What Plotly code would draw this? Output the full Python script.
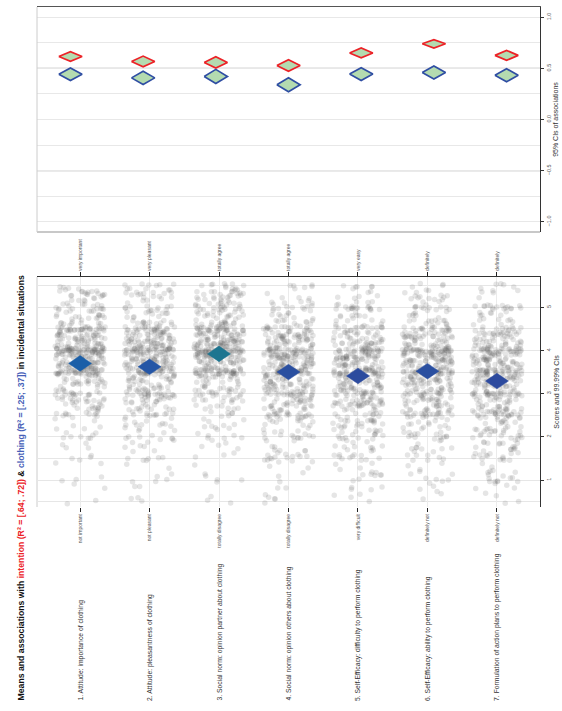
import plotly.graph_objects as go

# ---- Items and anchor labels -------------------------------------------
items = [
    "1. Attitude: importance of clothing",
    "2. Attitude: pleasantness of clothing",
    "3. Social norm: opinion partner about clothing",
    "4. Social norm: opinion others about clothing",
    "5. Self-Efficacy: difficulty to perform clothing",
    "6. Self-Efficacy: ability to perform clothing",
    "7. Formulation of action plans to perform clothing",
]
low_anchors = ["not important", "not pleasant", "totally disagree", "totally disagree",
               "very difficult", "definitely not", "definitely not"]
high_anchors = ["very important", "very pleasant", "totally agree", "totally agree",
                "very easy", "definitely", "definitely"]

# ---- Score distributions: number of respondents per score level ---------
score_levels = [0.75, 1.25, 1.75, 2.25, 2.75, 3.25, 3.75, 4.25, 4.75, 5.25]
score_counts = [
    [4, 5, 10, 14, 40, 60, 130, 110, 45, 35],
    [6, 8, 15, 25, 45, 65, 120, 100, 40, 30],
    [4, 5, 10, 14, 30, 50, 115, 115, 55, 50],
    [7, 10, 22, 32, 60, 80, 110, 80, 32, 20],
    [9, 13, 27, 37, 60, 80, 105, 75, 30, 20],
    [7, 10, 22, 32, 55, 75, 115, 80, 32, 25],
    [10, 16, 32, 42, 65, 80, 100, 70, 25, 18],
]

# ---- Means with 99.99% confidence intervals ------------------------------
mean_est = [3.70, 3.62, 3.92, 3.50, 3.41, 3.52, 3.29]
mean_lo = [3.52, 3.44, 3.74, 3.32, 3.23, 3.34, 3.11]
mean_hi = [3.88, 3.80, 4.10, 3.68, 3.59, 3.70, 3.47]
mean_colors = ["#1b5fa8", "#2456a6", "#1d7590", "#2a4fa0", "#2c4b9e", "#2a4fa0", "#2d4a9e"]

# ---- Associations (95% CIs) ---------------------------------------------
int_lo = [0.569, 0.516, 0.503, 0.471, 0.604, 0.699, 0.578]
int_est = [0.616, 0.568, 0.558, 0.527, 0.651, 0.740, 0.627]
int_hi = [0.663, 0.620, 0.614, 0.584, 0.699, 0.780, 0.676]
clo_lo = [0.382, 0.343, 0.353, 0.271, 0.382, 0.395, 0.369]
clo_est = [0.442, 0.407, 0.421, 0.340, 0.444, 0.459, 0.432]
clo_hi = [0.503, 0.471, 0.490, 0.408, 0.506, 0.523, 0.496]

W, H = 562, 711
pos = list(range(1, len(items) + 1))


def py(px):
    return 1 - px / H


def diamond(xc, lo, mid, hi, hw):
    return [xc - hw, xc, xc + hw, xc, xc - hw], [mid, hi, mid, lo, mid]


def jitter(n):
    """Deterministic jitter offset in [0, 1) from an integer key."""
    n = (n * 2654435761) & 0xFFFFFFFF
    n ^= n >> 15
    n = (n * 2246822519) & 0xFFFFFFFF
    n ^= n >> 13
    n = (n * 3266489917) & 0xFFFFFFFF
    n ^= n >> 16
    return n / 4294967296.0


fig = go.Figure()

# ---- Jittered individual scores -------------------------------------------
for k, (p, counts) in enumerate(zip(pos, score_counts)):
    xs, ys = [], []
    j = 0
    for lvl, n in zip(score_levels, counts):
        for _ in range(n):
            key = (k + 1) * 100003 + j * 7
            xs.append(p + (jitter(key) - 0.5) * 0.72)
            ys.append(lvl + (jitter(key + 3) - 0.5) * 0.6)
            j += 1
    fig.add_trace(go.Scatter(
        x=xs, y=ys, xaxis="x", yaxis="y", mode="markers",
        marker=dict(size=5.5, color="rgba(100,100,100,0.17)", line=dict(width=0)),
        hoverinfo="skip"))

# ---- Mean diamonds ---------------------------------------------------------
for p, lo, m, hi, c in zip(pos, mean_lo, mean_est, mean_hi, mean_colors):
    dx, dy = diamond(p, lo, m, hi, 0.165)
    fig.add_trace(go.Scatter(
        x=dx, y=dy, xaxis="x", yaxis="y", mode="lines", fill="toself",
        fillcolor=c, line=dict(color=c, width=0.5), hoverinfo="skip"))

# top anchor axis carrier
fig.add_trace(go.Scatter(x=[1], y=[1], xaxis="x3", yaxis="y", mode="markers",
                         marker=dict(opacity=0), hoverinfo="skip"))

# ---- Association diamonds ------------------------------------------------
for lo_s, est_s, hi_s, col in [(clo_lo, clo_est, clo_hi, "#2f4ea3"),
                               (int_lo, int_est, int_hi, "#ec2227")]:
    for p, lo, m, hi in zip(pos, lo_s, est_s, hi_s):
        dx, dy = diamond(p, lo, m, hi, 0.16)
        fig.add_trace(go.Scatter(
            x=dx, y=dy, xaxis="x2", yaxis="y2", mode="lines", fill="toself",
            fillcolor="#b4dbb0", line=dict(color=col, width=1.7), hoverinfo="skip"))

X0, X1 = 37 / W, 540 / W
tick_font = dict(size=5.5, color="#555")

fig.update_layout(
    width=W, height=H, margin=dict(l=0, r=0, t=0, b=0),
    paper_bgcolor="white", plot_bgcolor="white", showlegend=False,
    font=dict(family="Liberation Sans, Arial, sans-serif", color="#444"),
    xaxis=dict(domain=[X0, X1], anchor="y", range=[0.38, 7.62],
               tickmode="array", tickvals=pos, ticktext=low_anchors, tickangle=-90,
               ticks="outside", ticklen=4, tickcolor="#222", tickfont=dict(size=5, color="#555"),
               showgrid=True, gridcolor="#ebebeb", gridwidth=1, showline=False,
               zeroline=False, automargin=False),
    xaxis3=dict(overlaying="x", anchor="y", side="top", range=[0.38, 7.62],
                tickmode="array", tickvals=pos, ticktext=high_anchors, tickangle=-90,
                ticks="outside", ticklen=4, tickcolor="#222", tickfont=dict(size=5, color="#555"),
                showgrid=False, showline=True, linecolor="#333", linewidth=1.2,
                zeroline=False, automargin=False),
    yaxis=dict(domain=[py(507), py(277)], anchor="x", side="right", range=[0.375, 5.7],
               tick0=0, dtick=1, tickangle=-90, ticks="outside", ticklen=3,
               tickcolor="#333", tickfont=tick_font,
               showgrid=True, gridcolor="#e6e6e6", gridwidth=1,
               minor=dict(dtick=0.5, showgrid=True, gridcolor="#e6e6e6", ticks=""),
               showline=True, linecolor="#333", linewidth=1.2, zeroline=False,
               automargin=False,
               title=dict(text="Scores and 99.99% CIs", font=dict(size=7, color="#333"), standoff=3)),
    xaxis2=dict(domain=[X0, X1], anchor="y2", side="top", range=[0.54, 7.46],
                showticklabels=False, ticks="", showgrid=False, zeroline=False,
                showline=True, linecolor="#555", linewidth=1.2, automargin=False),
    yaxis2=dict(domain=[py(232), py(7)], anchor="x2", side="right", range=[-1.1, 1.1],
                tick0=0, dtick=0.5, tickformat=".1f", tickangle=-90, ticks="outside", ticklen=3,
                tickcolor="#333", tickfont=tick_font,
                showgrid=True, gridcolor="#e8e8e8", gridwidth=1,
                minor=dict(dtick=0.25, showgrid=True, gridcolor="#e8e8e8", ticks=""),
                showline=True, linecolor="#333", linewidth=1.2, zeroline=False,
                automargin=False,
                title=dict(text="95% CIs of associations", font=dict(size=7, color="#333"), standoff=1)),
)

# reference lines in the association panel
shapes = []
for v in (-0.5, 0.0, 0.5):
    shapes.append(dict(type="line", xref="x2 domain", yref="y2", x0=0, x1=1, y0=v, y1=v,
                       line=dict(color="#ababab", width=1.2), layer="below"))
# panel borders
shapes.append(dict(type="line", xref="paper", yref="paper", x0=X0, x1=X1, y0=py(232), y1=py(232),
                   line=dict(color="#c8c8c8", width=2)))
shapes.append(dict(type="line", xref="paper", yref="paper", x0=X0, x1=X0, y0=py(232), y1=py(7),
                   line=dict(color="#cccccc", width=1)))
shapes.append(dict(type="line", xref="paper", yref="paper", x0=X0, x1=X0, y0=py(507), y1=py(277),
                   line=dict(color="#cccccc", width=1), layer="below"))
fig.update_layout(shapes=shapes)

# item labels
for p, lab in zip(pos, items):
    fig.add_annotation(x=p, xref="x", y=py(703), yref="paper", text=lab, textangle=-90,
                       xanchor="center", yanchor="bottom", showarrow=False,
                       font=dict(size=6.8, color="#333"))

# title
title = ("<b>Means and associations with "
         "<span style='color:#ec2227'>intention (R² = [.64; .72])</span> &amp; "
         "<span style='color:#4660b8'>clothing (R² = [.25; .37])</span> "
         "in incidental situations</b>")
fig.add_annotation(x=20 / W, xref="paper", y=py(703), yref="paper", text=title, textangle=-90,
                   xanchor="center", yanchor="bottom", showarrow=False,
                   font=dict(size=8.7, color="#111"))

fig.write_html("out.html")
